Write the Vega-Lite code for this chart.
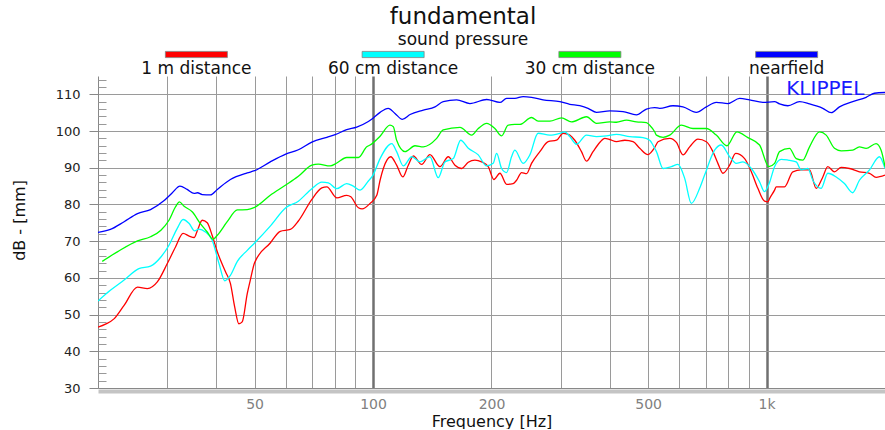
{
  "$schema": "https://vega.github.io/schema/vega-lite/v6.json",
  "background": "white",
  "padding": {"left": 11, "top": 5, "right": 0, "bottom": 0},
  "config": {"font": "DejaVu Sans", "view": {"stroke": null}},
  "title": {"text": "fundamental", "subtitle": "sound pressure", "fontSize": 23, "fontWeight": "normal", "color": "#111111", "subtitleFontSize": 17, "subtitleColor": "#111111", "subtitlePadding": 3, "anchor": "middle", "dx": 15, "offset": 2},
  "spacing": 18,
  "bounds": "flush",
  "resolve": {"scale": {"x": "independent", "y": "independent"}},
  "datasets": {
    "curves": [
      {"curve":"1 m distance","freq":20,"spl":46.6},{"curve":"1 m distance","freq":20.9,"spl":47.4},{"curve":"1 m distance","freq":22,"spl":48.9},{"curve":"1 m distance","freq":23.3,"spl":52.5},{"curve":"1 m distance","freq":25.2,"spl":57.5},{"curve":"1 m distance","freq":26.7,"spl":57.1},{"curve":"1 m distance","freq":28.3,"spl":58.9},{"curve":"1 m distance","freq":30,"spl":63.9},{"curve":"1 m distance","freq":31.5,"spl":68.5},{"curve":"1 m distance","freq":32.9,"spl":72.1},{"curve":"1 m distance","freq":34.1,"spl":71.4},{"curve":"1 m distance","freq":35.1,"spl":71},{"curve":"1 m distance","freq":35.8,"spl":73},{"curve":"1 m distance","freq":36.8,"spl":75.7},{"curve":"1 m distance","freq":37.9,"spl":75},{"curve":"1 m distance","freq":39,"spl":71.6},{"curve":"1 m distance","freq":40.2,"spl":67.1},{"curve":"1 m distance","freq":42.2,"spl":61.6},{"curve":"1 m distance","freq":43.4,"spl":58.5},{"curve":"1 m distance","freq":44.5,"spl":52.1},{"curve":"1 m distance","freq":45.6,"spl":47.5},{"curve":"1 m distance","freq":46.5,"spl":48},{"curve":"1 m distance","freq":47.9,"spl":55.7},{"curve":"1 m distance","freq":48.7,"spl":59.1},{"curve":"1 m distance","freq":50,"spl":64.1},{"curve":"1 m distance","freq":54.8,"spl":69.5},{"curve":"1 m distance","freq":58.1,"spl":72.7},{"curve":"1 m distance","freq":61.6,"spl":73.2},{"curve":"1 m distance","freq":64.6,"spl":75.5},{"curve":"1 m distance","freq":69.9,"spl":81.4},{"curve":"1 m distance","freq":74.1,"spl":84.5},{"curve":"1 m distance","freq":76.3,"spl":84.8},{"curve":"1 m distance","freq":80.9,"spl":81.8},{"curve":"1 m distance","freq":85.7,"spl":82.5},{"curve":"1 m distance","freq":87.8,"spl":82.1},{"curve":"1 m distance","freq":91.8,"spl":79.1},{"curve":"1 m distance","freq":93.8,"spl":78.8},{"curve":"1 m distance","freq":98.3,"spl":80.3},{"curve":"1 m distance","freq":102.2,"spl":82.5},{"curve":"1 m distance","freq":104.2,"spl":86.6},{"curve":"1 m distance","freq":106.2,"spl":89.8},{"curve":"1 m distance","freq":110.9,"spl":93},{"curve":"1 m distance","freq":114.8,"spl":90.7},{"curve":"1 m distance","freq":119,"spl":87.5},{"curve":"1 m distance","freq":122.9,"spl":90.7},{"curve":"1 m distance","freq":126.6,"spl":93.2},{"curve":"1 m distance","freq":132.9,"spl":90.9},{"curve":"1 m distance","freq":139.5,"spl":93.6},{"curve":"1 m distance","freq":147.9,"spl":90.3},{"curve":"1 m distance","freq":155.3,"spl":93},{"curve":"1 m distance","freq":161.5,"spl":90.7},{"curve":"1 m distance","freq":168,"spl":89.8},{"curve":"1 m distance","freq":174.6,"spl":91.5},{"curve":"1 m distance","freq":181.5,"spl":92.1},{"curve":"1 m distance","freq":188.8,"spl":91.6},{"curve":"1 m distance","freq":196.2,"spl":90.3},{"curve":"1 m distance","freq":202.8,"spl":86.8},{"curve":"1 m distance","freq":210.1,"spl":88.5},{"curve":"1 m distance","freq":218.5,"spl":85.5},{"curve":"1 m distance","freq":227,"spl":85.7},{"curve":"1 m distance","freq":231.6,"spl":86.6},{"curve":"1 m distance","freq":238.5,"spl":88.7},{"curve":"1 m distance","freq":245.5,"spl":88.4},{"curve":"1 m distance","freq":252.8,"spl":91.2},{"curve":"1 m distance","freq":265.4,"spl":94.4},{"curve":"1 m distance","freq":278.6,"spl":97.1},{"curve":"1 m distance","freq":292.6,"spl":97.5},{"curve":"1 m distance","freq":304.1,"spl":99.4},{"curve":"1 m distance","freq":316.2,"spl":98.9},{"curve":"1 m distance","freq":325.6,"spl":97.5},{"curve":"1 m distance","freq":338.6,"spl":94.4},{"curve":"1 m distance","freq":348.6,"spl":91.8},{"curve":"1 m distance","freq":362.3,"spl":94.4},{"curve":"1 m distance","freq":376.8,"spl":96.9},{"curve":"1 m distance","freq":388,"spl":98},{"curve":"1 m distance","freq":399.5,"spl":97.7},{"curve":"1 m distance","freq":415.5,"spl":97.1},{"curve":"1 m distance","freq":436.2,"spl":97.5},{"curve":"1 m distance","freq":457.9,"spl":97.1},{"curve":"1 m distance","freq":476.2,"spl":95.3},{"curve":"1 m distance","freq":499.7,"spl":93.6},{"curve":"1 m distance","freq":519.7,"spl":95.5},{"curve":"1 m distance","freq":529.9,"spl":97.1},{"curve":"1 m distance","freq":567.5,"spl":98},{"curve":"1 m distance","freq":590.1,"spl":96.9},{"curve":"1 m distance","freq":613.2,"spl":93.5},{"curve":"1 m distance","freq":637.8,"spl":95.7},{"curve":"1 m distance","freq":669.3,"spl":97.8},{"curve":"1 m distance","freq":703.1,"spl":97.1},{"curve":"1 m distance","freq":730.7,"spl":94.4},{"curve":"1 m distance","freq":752.3,"spl":91.2},{"curve":"1 m distance","freq":774.6,"spl":88.5},{"curve":"1 m distance","freq":805.7,"spl":90.7},{"curve":"1 m distance","freq":834.4,"spl":93.9},{"curve":"1 m distance","freq":879.6,"spl":92.5},{"curve":"1 m distance","freq":914.8,"spl":88.9},{"curve":"1 m distance","freq":950.4,"spl":84.4},{"curve":"1 m distance","freq":988.3,"spl":80.9},{"curve":"1 m distance","freq":1007.7,"spl":80.7},{"curve":"1 m distance","freq":1017.7,"spl":81.6},{"curve":"1 m distance","freq":1048,"spl":83.9},{"curve":"1 m distance","freq":1058.3,"spl":84.8},{"curve":"1 m distance","freq":1110.9,"spl":84.8},{"curve":"1 m distance","freq":1166.4,"spl":88.9},{"curve":"1 m distance","freq":1225,"spl":89.4},{"curve":"1 m distance","freq":1286,"spl":89.4},{"curve":"1 m distance","freq":1337,"spl":84.4},{"curve":"1 m distance","freq":1390,"spl":87.5},{"curve":"1 m distance","freq":1431,"spl":90.3},{"curve":"1 m distance","freq":1488,"spl":88.9},{"curve":"1 m distance","freq":1547.5,"spl":90.1},{"curve":"1 m distance","freq":1624.4,"spl":89.8},{"curve":"1 m distance","freq":1722,"spl":88.9},{"curve":"1 m distance","freq":1826,"spl":88.5},{"curve":"1 m distance","freq":1898.6,"spl":87.4},{"curve":"1 m distance","freq":2000,"spl":88},

      {"curve":"60 cm distance","freq":20,"spl":53.7},{"curve":"60 cm distance","freq":21.5,"spl":56.6},{"curve":"60 cm distance","freq":23.3,"spl":59.4},{"curve":"60 cm distance","freq":25.4,"spl":62.5},{"curve":"60 cm distance","freq":27.2,"spl":63.2},{"curve":"60 cm distance","freq":28.9,"spl":65.7},{"curve":"60 cm distance","freq":30.3,"spl":68.9},{"curve":"60 cm distance","freq":31.8,"spl":73.5},{"curve":"60 cm distance","freq":32.9,"spl":75.9},{"curve":"60 cm distance","freq":34.1,"spl":74.8},{"curve":"60 cm distance","freq":35.2,"spl":72.8},{"curve":"60 cm distance","freq":36.1,"spl":73.3},{"curve":"60 cm distance","freq":37.5,"spl":72.5},{"curve":"60 cm distance","freq":39,"spl":70.3},{"curve":"60 cm distance","freq":40.6,"spl":63.9},{"curve":"60 cm distance","freq":42,"spl":59.2},{"curve":"60 cm distance","freq":43.4,"spl":60.7},{"curve":"60 cm distance","freq":45.2,"spl":64.5},{"curve":"60 cm distance","freq":47.9,"spl":67.5},{"curve":"60 cm distance","freq":50,"spl":69.5},{"curve":"60 cm distance","freq":54.8,"spl":74.1},{"curve":"60 cm distance","freq":60,"spl":79.1},{"curve":"60 cm distance","freq":64.6,"spl":80.9},{"curve":"60 cm distance","freq":69.9,"spl":84.3},{"curve":"60 cm distance","freq":74.1,"spl":86.1},{"curve":"60 cm distance","freq":77,"spl":85.9},{"curve":"60 cm distance","freq":80.9,"spl":84.3},{"curve":"60 cm distance","freq":85.7,"spl":85.7},{"curve":"60 cm distance","freq":89.1,"spl":85},{"curve":"60 cm distance","freq":92.7,"spl":83.9},{"curve":"60 cm distance","freq":97.3,"spl":86.4},{"curve":"60 cm distance","freq":100,"spl":88},{"curve":"60 cm distance","freq":104.2,"spl":92.5},{"curve":"60 cm distance","freq":111.6,"spl":96.6},{"curve":"60 cm distance","freq":114.8,"spl":94.4},{"curve":"60 cm distance","freq":119.4,"spl":90.5},{"curve":"60 cm distance","freq":125.4,"spl":93},{"curve":"60 cm distance","freq":131.6,"spl":91.6},{"curve":"60 cm distance","freq":139.5,"spl":93},{"curve":"60 cm distance","freq":146.4,"spl":87.3},{"curve":"60 cm distance","freq":152.3,"spl":91.6},{"curve":"60 cm distance","freq":159.9,"spl":92.5},{"curve":"60 cm distance","freq":167,"spl":97.5},{"curve":"60 cm distance","freq":174.6,"spl":95.3},{"curve":"60 cm distance","freq":185.1,"spl":93.5},{"curve":"60 cm distance","freq":194.4,"spl":90.5},{"curve":"60 cm distance","freq":202,"spl":91.2},{"curve":"60 cm distance","freq":206.1,"spl":93.9},{"curve":"60 cm distance","freq":212.2,"spl":89.8},{"curve":"60 cm distance","freq":218.5,"spl":88.7},{"curve":"60 cm distance","freq":224.9,"spl":93},{"curve":"60 cm distance","freq":229.3,"spl":94.8},{"curve":"60 cm distance","freq":240.7,"spl":91.2},{"curve":"60 cm distance","freq":250.3,"spl":93.5},{"curve":"60 cm distance","freq":262.7,"spl":99.4},{"curve":"60 cm distance","freq":281.4,"spl":98.9},{"curve":"60 cm distance","freq":298.4,"spl":99.4},{"curve":"60 cm distance","freq":307.2,"spl":99.8},{"curve":"60 cm distance","freq":316.2,"spl":98.5},{"curve":"60 cm distance","freq":328.9,"spl":96.4},{"curve":"60 cm distance","freq":348.6,"spl":98.9},{"curve":"60 cm distance","freq":369.7,"spl":98.5},{"curve":"60 cm distance","freq":391.9,"spl":98.7},{"curve":"60 cm distance","freq":415.5,"spl":99.1},{"curve":"60 cm distance","freq":449.1,"spl":98.5},{"curve":"60 cm distance","freq":485.3,"spl":98.2},{"curve":"60 cm distance","freq":504.7,"spl":97.5},{"curve":"60 cm distance","freq":519.7,"spl":95.3},{"curve":"60 cm distance","freq":525,"spl":94.4},{"curve":"60 cm distance","freq":545.8,"spl":89.8},{"curve":"60 cm distance","freq":573.1,"spl":90.3},{"curve":"60 cm distance","freq":595.6,"spl":90.9},{"curve":"60 cm distance","freq":619.4,"spl":87.1},{"curve":"60 cm distance","freq":644.1,"spl":80.3},{"curve":"60 cm distance","freq":676,"spl":84.4},{"curve":"60 cm distance","freq":696,"spl":88},{"curve":"60 cm distance","freq":738,"spl":94.8},{"curve":"60 cm distance","freq":767.4,"spl":96.2},{"curve":"60 cm distance","freq":805.7,"spl":93},{"curve":"60 cm distance","freq":837.8,"spl":91.2},{"curve":"60 cm distance","freq":870.9,"spl":91.6},{"curve":"60 cm distance","freq":914.8,"spl":89.8},{"curve":"60 cm distance","freq":959.9,"spl":86.2},{"curve":"60 cm distance","freq":988.3,"spl":83.5},{"curve":"60 cm distance","freq":1017.7,"spl":86},{"curve":"60 cm distance","freq":1048,"spl":90.3},{"curve":"60 cm distance","freq":1089.7,"spl":92.3},{"curve":"60 cm distance","freq":1133,"spl":92.1},{"curve":"60 cm distance","freq":1189.7,"spl":91.6},{"curve":"60 cm distance","freq":1225,"spl":89.4},{"curve":"60 cm distance","freq":1273.3,"spl":89.8},{"curve":"60 cm distance","freq":1310.8,"spl":86.6},{"curve":"60 cm distance","freq":1376.8,"spl":84.4},{"curve":"60 cm distance","freq":1431,"spl":88.5},{"curve":"60 cm distance","freq":1503,"spl":87.5},{"curve":"60 cm distance","freq":1577.6,"spl":85.7},{"curve":"60 cm distance","freq":1656,"spl":83.2},{"curve":"60 cm distance","freq":1722,"spl":86.6},{"curve":"60 cm distance","freq":1826,"spl":89.4},{"curve":"60 cm distance","freq":1936,"spl":93},{"curve":"60 cm distance","freq":2000,"spl":89.8},

      {"curve":"30 cm distance","freq":20.5,"spl":64.5},{"curve":"30 cm distance","freq":22.4,"spl":67.1},{"curve":"30 cm distance","freq":25.2,"spl":70.1},{"curve":"30 cm distance","freq":27.2,"spl":71.2},{"curve":"30 cm distance","freq":28.9,"spl":73},{"curve":"30 cm distance","freq":30.3,"spl":75.7},{"curve":"30 cm distance","freq":31.5,"spl":79.4},{"curve":"30 cm distance","freq":32.2,"spl":80.7},{"curve":"30 cm distance","freq":33.1,"spl":79.5},{"curve":"30 cm distance","freq":34.7,"spl":78},{"curve":"30 cm distance","freq":36.4,"spl":74.8},{"curve":"30 cm distance","freq":37.9,"spl":72.5},{"curve":"30 cm distance","freq":39.2,"spl":70.5},{"curve":"30 cm distance","freq":40.2,"spl":71.6},{"curve":"30 cm distance","freq":42.6,"spl":75.3},{"curve":"30 cm distance","freq":45.2,"spl":78.5},{"curve":"30 cm distance","freq":47.9,"spl":78.6},{"curve":"30 cm distance","freq":50,"spl":79.2},{"curve":"30 cm distance","freq":54.8,"spl":82.5},{"curve":"30 cm distance","freq":60,"spl":85.3},{"curve":"30 cm distance","freq":64.6,"spl":87.7},{"curve":"30 cm distance","freq":69.9,"spl":90.7},{"curve":"30 cm distance","freq":72.6,"spl":91},{"curve":"30 cm distance","freq":77.8,"spl":90.5},{"curve":"30 cm distance","freq":80.9,"spl":91.3},{"curve":"30 cm distance","freq":85.7,"spl":92.8},{"curve":"30 cm distance","freq":91.8,"spl":92.8},{"curve":"30 cm distance","freq":96.4,"spl":95.7},{"curve":"30 cm distance","freq":98.3,"spl":96.2},{"curve":"30 cm distance","freq":104.2,"spl":98.6},{"curve":"30 cm distance","freq":110.4,"spl":101.6},{"curve":"30 cm distance","freq":112.6,"spl":101.2},{"curve":"30 cm distance","freq":114.8,"spl":97.5},{"curve":"30 cm distance","freq":120.6,"spl":94.4},{"curve":"30 cm distance","freq":127.8,"spl":96},{"curve":"30 cm distance","freq":134.2,"spl":95.7},{"curve":"30 cm distance","freq":145.1,"spl":98},{"curve":"30 cm distance","freq":150.8,"spl":100.3},{"curve":"30 cm distance","freq":166.3,"spl":101},{"curve":"30 cm distance","freq":178.1,"spl":98.9},{"curve":"30 cm distance","freq":185.1,"spl":100.7},{"curve":"30 cm distance","freq":194.4,"spl":102.1},{"curve":"30 cm distance","freq":204,"spl":100.7},{"curve":"30 cm distance","freq":212.2,"spl":98.7},{"curve":"30 cm distance","freq":220.5,"spl":101.6},{"curve":"30 cm distance","freq":229.3,"spl":101.8},{"curve":"30 cm distance","freq":236.1,"spl":101.8},{"curve":"30 cm distance","freq":252.8,"spl":103.7},{"curve":"30 cm distance","freq":262.7,"spl":102.7},{"curve":"30 cm distance","freq":281.4,"spl":102.7},{"curve":"30 cm distance","freq":301.3,"spl":103.6},{"curve":"30 cm distance","freq":319.3,"spl":102.5},{"curve":"30 cm distance","freq":348.6,"spl":103.9},{"curve":"30 cm distance","freq":369.7,"spl":102.1},{"curve":"30 cm distance","freq":399.5,"spl":102.5},{"curve":"30 cm distance","freq":415.5,"spl":102.4},{"curve":"30 cm distance","freq":440.5,"spl":103},{"curve":"30 cm distance","freq":467.1,"spl":102.5},{"curve":"30 cm distance","freq":495.1,"spl":102.3},{"curve":"30 cm distance","freq":504.7,"spl":101.6},{"curve":"30 cm distance","freq":519.7,"spl":99.8},{"curve":"30 cm distance","freq":525,"spl":98.9},{"curve":"30 cm distance","freq":545.8,"spl":98.3},{"curve":"30 cm distance","freq":567.5,"spl":98.9},{"curve":"30 cm distance","freq":607.6,"spl":101.6},{"curve":"30 cm distance","freq":650.2,"spl":100.7},{"curve":"30 cm distance","freq":703.1,"spl":100.7},{"curve":"30 cm distance","freq":745.3,"spl":98.9},{"curve":"30 cm distance","freq":793,"spl":96},{"curve":"30 cm distance","freq":840.7,"spl":99.8},{"curve":"30 cm distance","freq":896.6,"spl":98.2},{"curve":"30 cm distance","freq":959.9,"spl":96.2},{"curve":"30 cm distance","freq":1013.5,"spl":90.3},{"curve":"30 cm distance","freq":1048,"spl":91.2},{"curve":"30 cm distance","freq":1079,"spl":94.4},{"curve":"30 cm distance","freq":1144,"spl":95.3},{"curve":"30 cm distance","freq":1189.7,"spl":92.5},{"curve":"30 cm distance","freq":1236.6,"spl":92.1},{"curve":"30 cm distance","freq":1286,"spl":95.7},{"curve":"30 cm distance","freq":1363.2,"spl":99.8},{"curve":"30 cm distance","freq":1417.6,"spl":98.9},{"curve":"30 cm distance","freq":1488,"spl":95.3},{"curve":"30 cm distance","freq":1547.5,"spl":94.6},{"curve":"30 cm distance","freq":1656,"spl":94.8},{"curve":"30 cm distance","freq":1722,"spl":95.7},{"curve":"30 cm distance","freq":1791,"spl":95.3},{"curve":"30 cm distance","freq":1898.6,"spl":96.6},{"curve":"30 cm distance","freq":1955,"spl":94.8},{"curve":"30 cm distance","freq":2000,"spl":90.3},

      {"curve":"nearfield","freq":20,"spl":72.4},{"curve":"nearfield","freq":21.5,"spl":73.2},{"curve":"nearfield","freq":23.3,"spl":75.3},{"curve":"nearfield","freq":25.2,"spl":77.5},{"curve":"nearfield","freq":27.2,"spl":78.6},{"curve":"nearfield","freq":29.4,"spl":81},{"curve":"nearfield","freq":30.9,"spl":83.2},{"curve":"nearfield","freq":32.3,"spl":85},{"curve":"nearfield","freq":33.7,"spl":84.1},{"curve":"nearfield","freq":35.1,"spl":83},{"curve":"nearfield","freq":35.8,"spl":83.2},{"curve":"nearfield","freq":36.8,"spl":82.7},{"curve":"nearfield","freq":38.6,"spl":82.6},{"curve":"nearfield","freq":40.2,"spl":84.1},{"curve":"nearfield","freq":43.4,"spl":86.8},{"curve":"nearfield","freq":47.9,"spl":88.6},{"curve":"nearfield","freq":50,"spl":89.2},{"curve":"nearfield","freq":54.8,"spl":91.6},{"curve":"nearfield","freq":60,"spl":93.7},{"curve":"nearfield","freq":64.6,"spl":94.9},{"curve":"nearfield","freq":69.9,"spl":97},{"curve":"nearfield","freq":76.3,"spl":98.3},{"curve":"nearfield","freq":80.1,"spl":99},{"curve":"nearfield","freq":85.7,"spl":100.4},{"curve":"nearfield","freq":90.9,"spl":101.1},{"curve":"nearfield","freq":97.3,"spl":102.6},{"curve":"nearfield","freq":100,"spl":103.5},{"curve":"nearfield","freq":104.2,"spl":105.1},{"curve":"nearfield","freq":109.3,"spl":106.2},{"curve":"nearfield","freq":113.7,"spl":104.8},{"curve":"nearfield","freq":118.7,"spl":103.2},{"curve":"nearfield","freq":124.2,"spl":104.5},{"curve":"nearfield","freq":134.2,"spl":105.7},{"curve":"nearfield","freq":143.7,"spl":106.6},{"curve":"nearfield","freq":150.8,"spl":108},{"curve":"nearfield","freq":163.1,"spl":108.5},{"curve":"nearfield","freq":176.3,"spl":107.5},{"curve":"nearfield","freq":194.4,"spl":108.6},{"curve":"nearfield","freq":210.1,"spl":107.8},{"curve":"nearfield","freq":218.5,"spl":108.9},{"curve":"nearfield","freq":229.3,"spl":108.9},{"curve":"nearfield","freq":240.7,"spl":109.4},{"curve":"nearfield","freq":252.8,"spl":109.2},{"curve":"nearfield","freq":270.5,"spl":108.5},{"curve":"nearfield","freq":298.4,"spl":108},{"curve":"nearfield","freq":316.2,"spl":107.3},{"curve":"nearfield","freq":335.3,"spl":106.9},{"curve":"nearfield","freq":351.9,"spl":106.2},{"curve":"nearfield","freq":369.7,"spl":105.1},{"curve":"nearfield","freq":399.5,"spl":105.5},{"curve":"nearfield","freq":431.8,"spl":105.3},{"curve":"nearfield","freq":467.1,"spl":104.4},{"curve":"nearfield","freq":495.1,"spl":106},{"curve":"nearfield","freq":519.7,"spl":106.4},{"curve":"nearfield","freq":535.2,"spl":106.2},{"curve":"nearfield","freq":578.3,"spl":106.9},{"curve":"nearfield","freq":613.2,"spl":106.6},{"curve":"nearfield","freq":663.1,"spl":105.1},{"curve":"nearfield","freq":703.1,"spl":106.6},{"curve":"nearfield","freq":745.3,"spl":107.8},{"curve":"nearfield","freq":797.7,"spl":107.5},{"curve":"nearfield","freq":854.4,"spl":108.9},{"curve":"nearfield","freq":905.6,"spl":108.5},{"curve":"nearfield","freq":978.6,"spl":107.8},{"curve":"nearfield","freq":1048,"spl":108},{"curve":"nearfield","freq":1079,"spl":107.4},{"curve":"nearfield","freq":1133,"spl":106.9},{"curve":"nearfield","freq":1213,"spl":108},{"curve":"nearfield","freq":1286,"spl":107.4},{"curve":"nearfield","freq":1390,"spl":106.2},{"curve":"nearfield","freq":1460,"spl":105},{"curve":"nearfield","freq":1532,"spl":106.6},{"curve":"nearfield","freq":1656,"spl":108},{"curve":"nearfield","freq":1791,"spl":109.2},{"curve":"nearfield","freq":1880,"spl":110.3},{"curve":"nearfield","freq":2000,"spl":110.5}
    ]
  },
  "vconcat": [
    {
      "width": 787,
      "height": 7,
      "data": {"values": [{"curve": "1 m distance"}, {"curve": "60 cm distance"}, {"curve": "30 cm distance"}, {"curve": "nearfield"}]},
      "encoding": {
        "x": {"field": "curve", "type": "nominal", "sort": ["1 m distance", "60 cm distance", "30 cm distance", "nearfield"], "axis": null, "scale": {"type": "point", "padding": 0.5}}
      },
      "layer": [
        {
          "mark": {"type": "point", "shape": "M-1,-0.1H1V0.1H-1Z", "filled": true, "size": 3844, "stroke": "#808080", "strokeWidth": 0.8, "opacity": 1},
          "encoding": {
            "color": {"field": "curve", "type": "nominal", "scale": {"domain": ["1 m distance", "60 cm distance", "30 cm distance", "nearfield"], "range": ["#ff0000", "#00ffff", "#00ff00", "#0000ff"]}, "legend": null}
          }
        },
        {
          "mark": {"type": "text", "dy": 14, "fontSize": 17, "color": "#111111", "baseline": "middle"},
          "encoding": {"text": {"field": "curve"}}
        }
      ]
    },
    {
      "width": 787,
      "height": 312,
      "layer": [
        {
          "data": {"name": "curves"},
          "mark": {"type": "line", "strokeWidth": 1.3, "interpolate": "monotone", "clip": true},
          "encoding": {
            "x": {"field": "freq", "type": "quantitative", "scale": {"type": "log", "domain": [20, 2000], "nice": false},
              "axis": {"values": [30, 40, 50, 60, 70, 80, 90, 100, 200, 300, 400, 500, 600, 700, 800, 900, 1000], "grid": true,
                "gridColor": {"condition": {"test": "datum.value == 100 || datum.value == 1000", "value": "#707070"}, "value": "#9a9a9a"},
                "gridWidth": {"condition": {"test": "datum.value == 100 || datum.value == 1000", "value": 2.5}, "value": 1},
                "ticks": false, "tickSize": 0, "labelOverlap": false, "labelFlush": false,
                "labelExpr": "datum.value == 1000 ? '1k' : (indexof([50, 100, 200, 500], datum.value) >= 0 ? '' + datum.value : '')",
                "labelColor": "#808080", "labelFontSize": 14, "labelPadding": 9,
                "domainColor": "#888888", "title": "Frequency [Hz]", "titleFontSize": 16, "titleFontWeight": "normal", "titleColor": "#111111", "titlePadding": 2}},
            "y": {"field": "spl", "type": "quantitative", "scale": {"domain": [30, 115], "nice": false, "zero": false},
              "axis": {"values": [30, 40, 50, 60, 70, 80, 90, 100, 110], "grid": true, "gridColor": "#9a9a9a", "tickSize": 9, "tickColor": "#888888",
                "labelFontSize": 13, "labelColor": "#222222", "labelPadding": 9, "domainColor": "#888888",
                "title": "dB - [mm]", "titleFontSize": 16, "titleFontWeight": "normal", "titleColor": "#111111", "titleX": -79, "titleY": 144, "titleBaseline": "middle"}},
            "color": {"field": "curve", "type": "nominal", "scale": {"domain": ["1 m distance", "60 cm distance", "30 cm distance", "nearfield"], "range": ["#ff0000", "#00ffff", "#00ff00", "#0000ff"]}, "legend": null}
          }
        },
        {
          "data": {"values": [{"freq": 1410, "spl": 111.5, "brand": "KLIPPEL"}]},
          "mark": {"type": "text", "fontSize": 20, "color": "#1a1aff", "align": "center", "baseline": "middle"},
          "encoding": {
            "x": {"field": "freq", "type": "quantitative", "axis": {"orient": "bottom", "labels": false, "ticks": false, "grid": false, "domain": true, "domainColor": "#c4c4c4", "domainWidth": 4, "offset": 3, "title": null}},
            "y": {"field": "spl", "type": "quantitative", "axis": {"orient": "left", "values": [32, 34, 36, 38, 42, 44, 46, 48, 52, 54, 56, 58, 62, 64, 66, 68, 72, 74, 76, 78, 82, 84, 86, 88, 92, 94, 96, 98, 102, 104, 106, 108, 112, 114], "labels": false, "grid": false, "domain": false, "tickSize": -8, "tickColor": "#999999", "title": null}},
            "text": {"field": "brand"}
          }
        }
      ],
      "resolve": {"axis": {"x": "independent", "y": "independent"}}
    }
  ]
}
